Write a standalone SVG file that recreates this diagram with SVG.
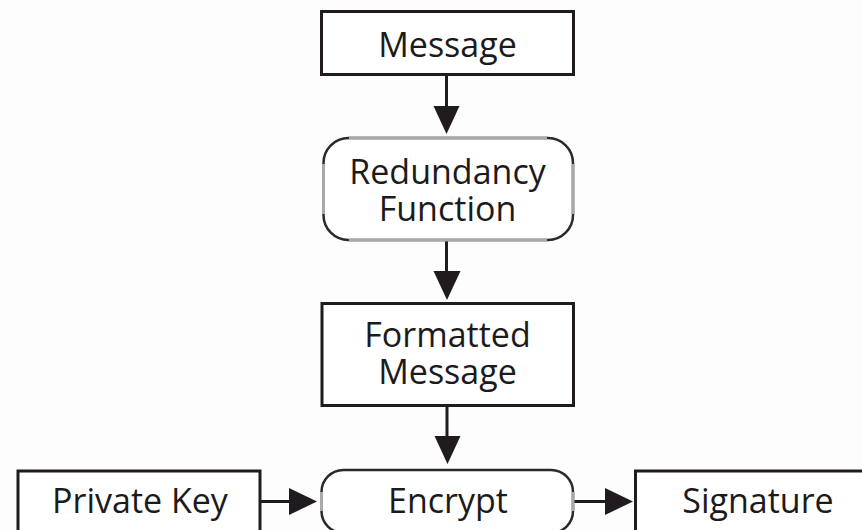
<svg xmlns="http://www.w3.org/2000/svg" width="862" height="530" viewBox="0 0 862 530">
  <defs>
    <style>
      .bg { fill: #fdfdfd; }
      .box { fill: #ffffff; stroke: #1f1b1e; stroke-width: 3; }
      .round { fill: #ffffff; stroke: #2a2a2a; stroke-width: 2.5; }
      .soft { stroke: #a9a9a9; stroke-width: 3; fill: none; }
      .edge { stroke: #1f1b1e; stroke-width: 3; fill: none; }
      .head { fill: #1f1b1e; }
      text { font-family: "Open Sans", "Noto Sans", "DejaVu Sans", sans-serif; font-size: 34px; fill: #1c1a1b; text-anchor: middle; }
    </style>
  </defs>

  <rect class="bg" x="0" y="0" width="862" height="530"/>

  <!-- connectors -->
  <g id="connectors">
    <line class="edge" x1="446.5" y1="76" x2="446.5" y2="108"/>
    <polygon class="head" points="433.5,106 459.5,106 446.5,134"/>
    <line class="edge" x1="446.5" y1="240" x2="446.5" y2="273"/>
    <polygon class="head" points="433.5,271 460.5,271 447,300"/>
    <line class="edge" x1="447" y1="407" x2="447" y2="438"/>
    <polygon class="head" points="434.5,436 460.5,436 447.5,464"/>
    <line class="edge" x1="261" y1="501.5" x2="291" y2="501.5"/>
    <polygon class="head" points="289,488 289,515 317,501.5"/>
    <line class="edge" x1="573" y1="501.5" x2="607" y2="501.5"/>
    <polygon class="head" points="605,488 605,515 633,501.5"/>
  </g>

  <g id="message">
    <rect class="box" x="321.5" y="11.5" width="252" height="63"/>
    <text x="447.5" y="57">Message</text>
  </g>

  <g id="redundancy-function">
    <rect class="round" x="323.5" y="138" width="249.5" height="102" rx="25" ry="25"/>
    <line class="soft" x1="349" y1="138" x2="547" y2="138"/>
    <line class="soft" x1="349" y1="240" x2="547" y2="240"/>
    <line class="soft" x1="323.5" y1="164" x2="323.5" y2="214"/>
    <line class="soft" x1="573" y1="164" x2="573" y2="214"/>
    <text x="447.5" y="184">Redundancy</text>
    <text x="447.5" y="221">Function</text>
  </g>

  <g id="formatted-message">
    <rect class="box" x="322" y="303.5" width="251.5" height="102"/>
    <text x="447.5" y="347">Formatted</text>
    <text x="447.5" y="383.5">Message</text>
  </g>

  <g id="private-key">
    <rect class="box" x="18" y="471" width="242" height="80"/>
    <text x="140" y="513">Private Key</text>
  </g>

  <g id="encrypt">
    <rect class="round" x="321.5" y="470" width="251.5" height="63" rx="22" ry="22"/>
    <line class="soft" x1="321.5" y1="492" x2="321.5" y2="511"/>
    <line class="soft" x1="573" y1="492" x2="573" y2="511"/>
    <text x="448" y="513">Encrypt</text>
  </g>

  <g id="signature">
    <rect class="box" x="635.5" y="471" width="250" height="80"/>
    <text x="758" y="513">Signature</text>
  </g>
</svg>
